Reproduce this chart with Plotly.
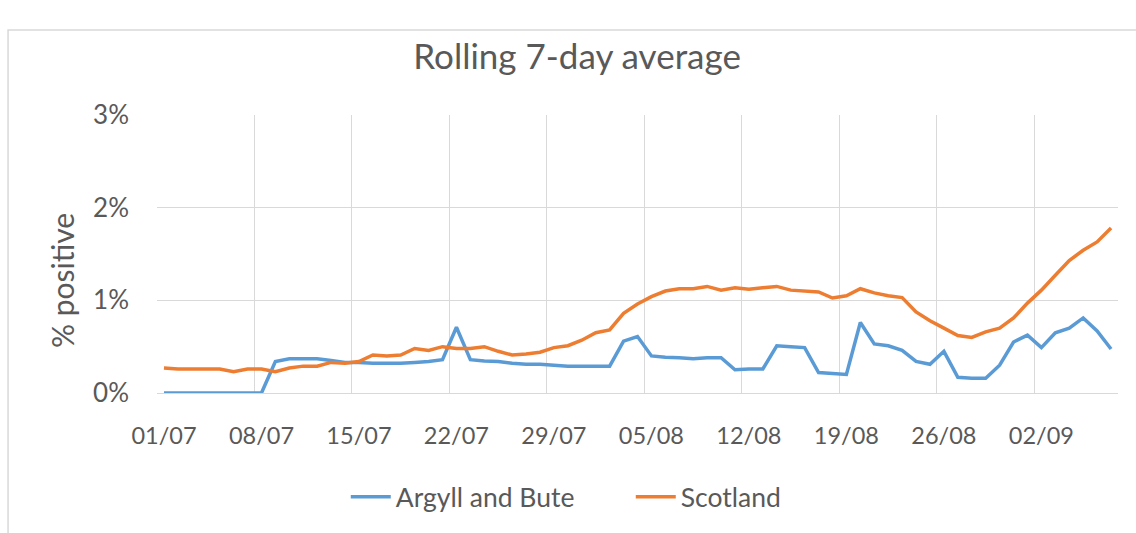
import pandas as pd
import plotly.graph_objects as go

# ---- data ----
dates = [d.strftime("%d/%m") for d in pd.date_range("2020-07-01", "2020-09-07", freq="D")]
tick_labels = ["01/07", "08/07", "15/07", "22/07", "29/07", "05/08", "12/08", "19/08", "26/08", "02/09"]

argyll = [0, 0, 0, 0, 0, 0, 0, 0, 0.34, 0.37,
          0.37, 0.37, 0.35, 0.33, 0.33, 0.32, 0.32, 0.32, 0.33, 0.34,
          0.36, 0.71, 0.36, 0.345, 0.34, 0.32, 0.31, 0.31, 0.30, 0.29,
          0.29, 0.29, 0.29, 0.56, 0.61, 0.40, 0.385, 0.38, 0.37, 0.38,
          0.38, 0.25, 0.26, 0.26, 0.51, 0.50, 0.49, 0.22, 0.21, 0.20,
          0.76, 0.53, 0.51, 0.46, 0.34, 0.31, 0.45, 0.17, 0.16, 0.16,
          0.30, 0.55, 0.625, 0.49, 0.65, 0.70, 0.81, 0.67, 0.475]

scotland = [0.27, 0.26, 0.26, 0.26, 0.26, 0.23, 0.26, 0.26, 0.23, 0.27,
            0.29, 0.29, 0.33, 0.32, 0.34, 0.41, 0.40, 0.41, 0.48, 0.46,
            0.50, 0.48, 0.48, 0.50, 0.45, 0.41, 0.42, 0.44, 0.49, 0.51,
            0.57, 0.65, 0.68, 0.86, 0.96, 1.04, 1.10, 1.125, 1.125, 1.15,
            1.11, 1.135, 1.12, 1.135, 1.15, 1.11, 1.10, 1.09, 1.025, 1.05,
            1.125, 1.08, 1.05, 1.03, 0.875, 0.78, 0.70, 0.62, 0.60, 0.66,
            0.70, 0.81, 0.97, 1.11, 1.27, 1.43, 1.54, 1.63, 1.78]

# ---- figure ----
FONT = "Lato"
TXT = "#595959"
GRID = "#d9d9d9"

x = list(range(len(dates)))
tickvals = [dates.index(t) for t in tick_labels]

fig = go.Figure()
fig.add_trace(go.Scatter(x=x, y=argyll, mode="lines", name="Argyll and Bute",
                         line=dict(color="#5B9BD5", width=3.5), customdata=dates,
                         hovertemplate="%{customdata}: %{y:.2f}%<extra></extra>"))
fig.add_trace(go.Scatter(x=x, y=scotland, mode="lines", name="Scotland",
                         line=dict(color="#ED7D31", width=3.5), customdata=dates,
                         hovertemplate="%{customdata}: %{y:.2f}%<extra></extra>"))

fig.update_layout(
    width=1136, height=533,
    margin=dict(l=157, r=18, t=115, b=140),
    paper_bgcolor="white", plot_bgcolor="white",
    font=dict(family=FONT, color=TXT, size=24),
    title=dict(text="Rolling 7-day average", x=0.508, xref="container", y=0.893,
               yref="container", xanchor="center", yanchor="middle",
               font=dict(size=35, color=TXT, family=FONT)),
    showlegend=True,
    legend=dict(orientation="h", x=0.493, xanchor="center", y=-0.374, yanchor="middle",
                font=dict(size=26.5, color=TXT), itemwidth=40, entrywidth=230,
                bgcolor="rgba(0,0,0,0)"),
    xaxis=dict(range=[-0.5, len(dates) - 0.5], tickmode="array", tickvals=tickvals,
               ticktext=tick_labels, showgrid=False, zeroline=False,
               showline=True, linecolor=GRID, linewidth=1, ticks="",
               ticklabelstandoff=22, automargin=False,
               tickfont=dict(size=23.5, color=TXT),
               minor=dict(tickmode="linear", tick0=-0.5, dtick=7, showgrid=True,
                          gridcolor=GRID, gridwidth=1)),
    yaxis=dict(range=[0, 3], dtick=1, ticksuffix="%", showgrid=True, gridcolor=GRID,
               gridwidth=1, zeroline=False, showline=False, ticks="",
               ticklabelstandoff=27, automargin=False,
               tickfont=dict(size=26, color=TXT)),
)

fig.add_annotation(text="% positive", textangle=-90, xref="paper", yref="paper",
                   x=-0.0989, y=0.406, xanchor="center", yanchor="middle",
                   showarrow=False, font=dict(size=30, color=TXT, family=FONT))

# chart-area border
fig.add_shape(type="rect", xref="paper", yref="paper", x0=-0.155, x1=1.1, y0=-0.6, y1=1.306,
              line=dict(color=GRID, width=1.5), fillcolor="rgba(0,0,0,0)", layer="below")

fig.write_html("out.html", config={"displayModeBar": False},
               post_script="document.body.style.margin='0';")
